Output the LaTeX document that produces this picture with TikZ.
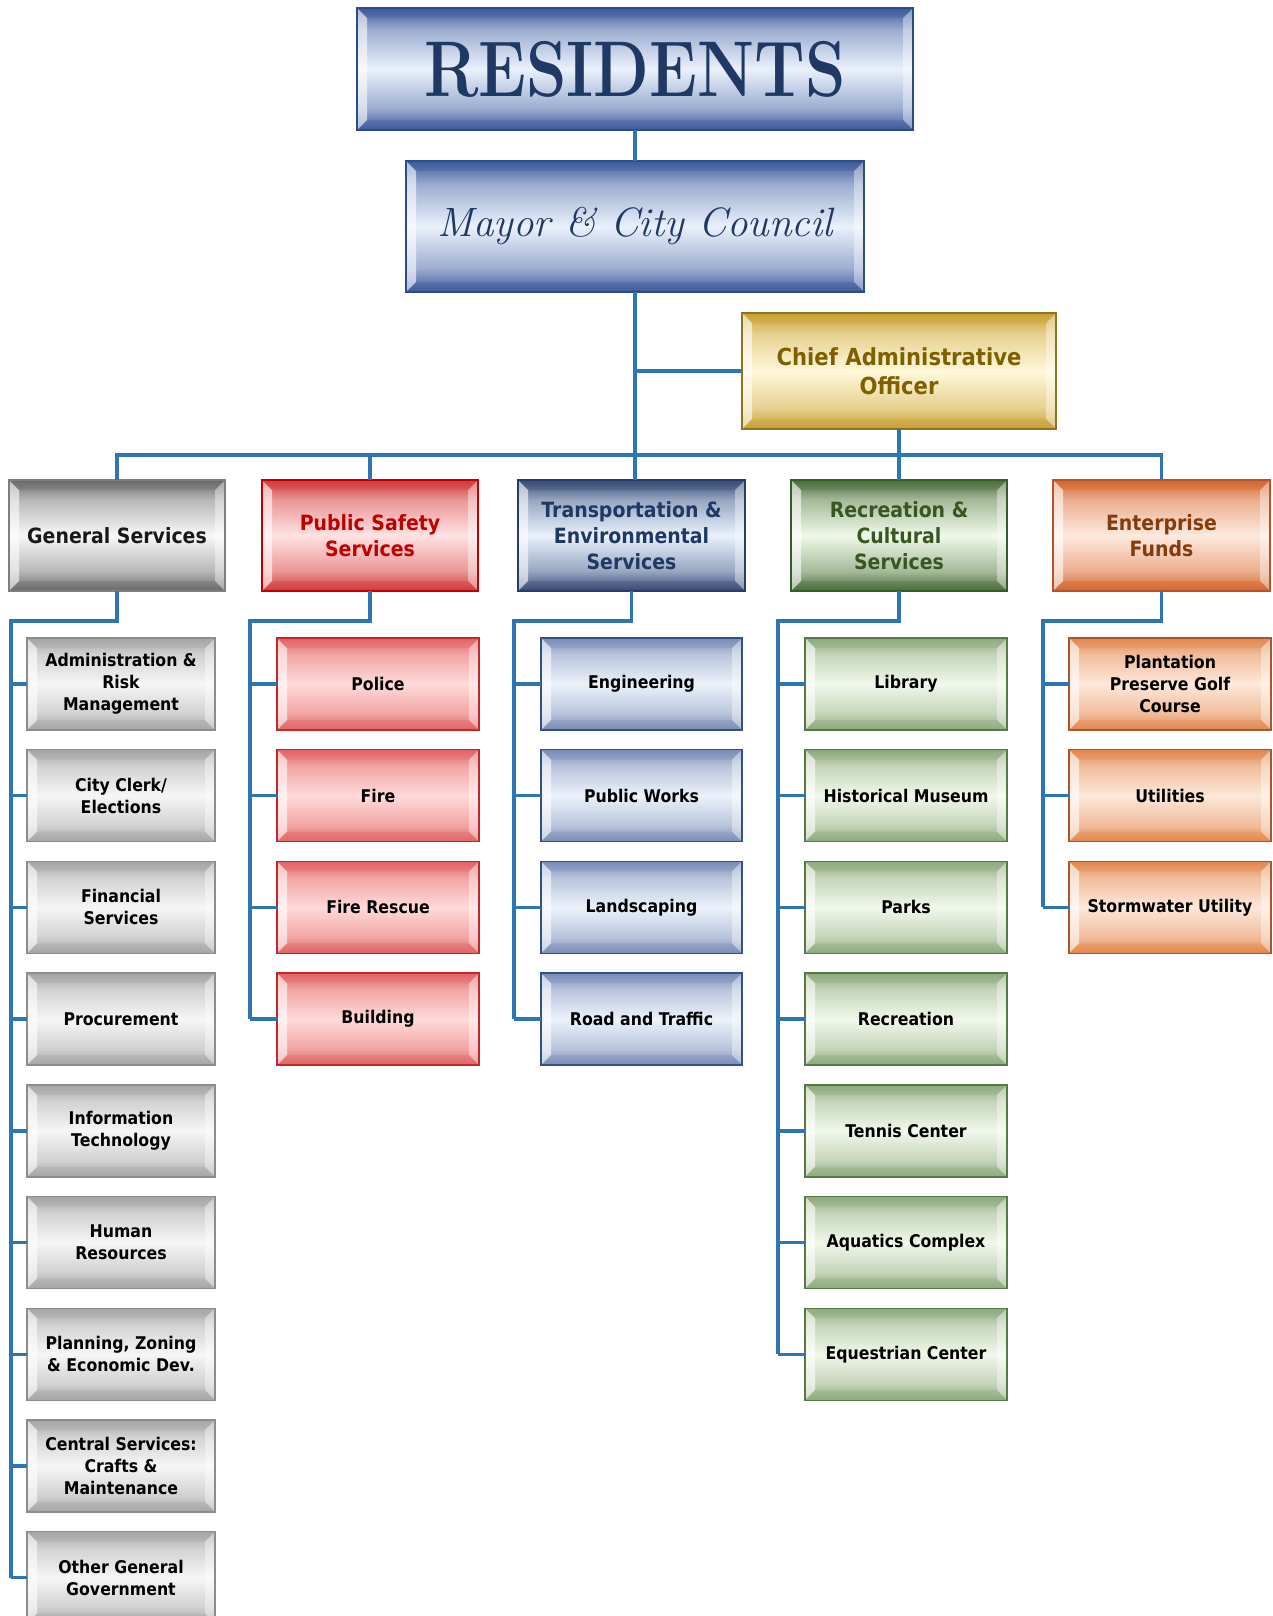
\documentclass[tikz,border=0pt]{standalone}
\usepackage{fontspec}
\usepackage{graphicx}
\newfontfamily\cf{DejaVu Sans}[FakeStretch=0.9]
\definecolor{conn}{HTML}{2E75B6}
% colour sets: D dark, L light, B border
\definecolor{blD}{HTML}{3D5A9A}\definecolor{blL}{HTML}{EAF1FC}\definecolor{blB}{HTML}{2B4C8C}
\definecolor{goD}{HTML}{C9A033}\definecolor{goL}{HTML}{FFF8DA}\definecolor{goB}{HTML}{8A7520}
\definecolor{grD}{HTML}{6A6A6A}\definecolor{grL}{HTML}{F8F8F8}\definecolor{grB}{HTML}{7F7F7F}
\definecolor{reD}{HTML}{D23A3A}\definecolor{reL}{HTML}{FFE2E2}\definecolor{reB}{HTML}{C00000}
\definecolor{nvD}{HTML}{364B78}\definecolor{nvL}{HTML}{E9F1FD}\definecolor{nvB}{HTML}{2A3C66}
\definecolor{gnD}{HTML}{4C6E3B}\definecolor{gnL}{HTML}{EFF9E8}\definecolor{gnB}{HTML}{3B5A2B}
\definecolor{orD}{HTML}{D6652C}\definecolor{orL}{HTML}{FDEADF}\definecolor{orB}{HTML}{B5532A}
\definecolor{cgD}{HTML}{A5A5A5}\definecolor{cgL}{HTML}{F6F6F6}\definecolor{cgB}{HTML}{8C8C8C}
\definecolor{crD}{HTML}{E26464}\definecolor{crL}{HTML}{FFDADA}\definecolor{crB}{HTML}{C4262A}
\definecolor{cbD}{HTML}{7A8DB6}\definecolor{cbL}{HTML}{ECF2FB}\definecolor{cbB}{HTML}{34508A}
\definecolor{cnD}{HTML}{8DAA7D}\definecolor{cnL}{HTML}{F1F8EB}\definecolor{cnB}{HTML}{567A46}
\definecolor{coD}{HTML}{E2884E}\definecolor{coL}{HTML}{FDE8DA}\definecolor{coB}{HTML}{A5582E}
\definecolor{txBlue}{HTML}{1F3864}
\definecolor{txGold}{HTML}{7F6000}
\definecolor{txRed}{HTML}{C00000}
\definecolor{txGreen}{HTML}{375623}
\definecolor{txOrange}{HTML}{843C0C}
\newcommand{\mkshade}[1]{%
  \colorlet{#1M}{#1D!45!#1L}%
  \pgfdeclareverticalshading{sh#1}{100bp}{color(0bp)=(#1D); color(25bp)=(#1D); color(34bp)=(#1M); color(50bp)=(#1L); color(66bp)=(#1M); color(75bp)=(#1D); color(100bp)=(#1D)}}
\mkshade{bl}\mkshade{go}\mkshade{gr}\mkshade{re}\mkshade{nv}\mkshade{gn}\mkshade{or}
\mkshade{cg}\mkshade{cr}\mkshade{cb}\mkshade{cn}\mkshade{co}
\def\bw{10}
% name, x1, y1, x2, y2, colour prefix, node options, text
\newcommand{\bev}[8]{%
  \path[shading=sh#6] ({#2},{#3}) rectangle ({#4},{#5});
  \fill[white,opacity=.6] ({#2},{#3}) -- ({#2+\bw},{#3+\bw}) -- ({#2+\bw},{#5-\bw}) -- ({#2},{#5}) -- cycle;
  \fill[white,opacity=.4] ({#4},{#3}) -- ({#4-\bw},{#3+\bw}) -- ({#4-\bw},{#5-\bw}) -- ({#4},{#5}) -- cycle;
  \fill[#6D,opacity=.3] ({#2},{#3}) -- ({#4},{#3}) -- ({#4-\bw},{#3+\bw}) -- ({#2+\bw},{#3+\bw}) -- cycle;
  \fill[#6D,opacity=.3] ({#2},{#5}) -- ({#4},{#5}) -- ({#4-\bw},{#5-\bw}) -- ({#2+\bw},{#5-\bw}) -- cycle;
  \node[draw=#6B, line width=1.4pt, inner sep=0pt, outer sep=0pt, align=center,
        minimum width={#4-#2}, minimum height={#5-#3}, #7] (#1) at ({(#2+#4)/2},{(#3+#5)/2}) {#8};
}
% name, x1, x2, row, colour prefix, text
\newcommand{\child}[6]{%
  \pgfmathsetmacro\cya{638+(#4-1)*111.7}%
  \pgfmathsetmacro\cyb{\cya+92}%
  \bev{#1}{#2}{\cya}{#3}{\cyb}{#5}{ctext}{#6}}
\tikzset{
  conn/.style={draw=conn, line width=3.4pt},
  ctext/.style={font=\cf\bfseries\fontsize{17.5}{22}\selectfont, text=black},
  htext/.style={font=\cf\bfseries\fontsize{21}{26}\selectfont},
}
\begin{document}
\begin{tikzpicture}[x=1pt,y=-1pt]
\useasboundingbox (0,0) rectangle (1272,1616);
\clip (0,0) rectangle (1272,1616);
\fill[white] (0,0) rectangle (1272,1616);
% top
\bev{res}{357}{8}{913}{130}{bl}{text=txBlue, font=\bfseries\fontsize{79}{80}\selectfont}{\scalebox{0.82}[1]{RESIDENTS}}
\bev{mayor}{406}{161}{864}{292}{bl}{text=txBlue, font=\itshape\fontsize{41}{44}\selectfont}{Mayor \& City Council}
\bev{cao}{742}{313}{1056}{429}{go}{text=txGold, font=\cf\bfseries\fontsize{23.5}{29}\selectfont}{Chief Administrative\\Officer}
% departments
\bev{gen}{9}{480}{225}{591}{gr}{htext, text=black!90}{General Services}
\bev{ps}{262}{480}{478}{591}{re}{htext, text=txRed}{Public Safety\\Services}
\bev{trans}{518}{480}{745}{591}{nv}{htext, text=txBlue}{Transportation \&\\Environmental\\Services}
\bev{rec}{791}{480}{1007}{591}{gn}{htext, text=txGreen}{Recreation \&\\Cultural\\Services}
\bev{ent}{1053}{480}{1270}{591}{or}{htext, text=txOrange}{Enterprise\\Funds}
% general services
\child{g1}{27}{215}{1}{cg}{Administration \&\\Risk\\Management}
\child{g2}{27}{215}{2}{cg}{City Clerk/\\Elections}
\child{g3}{27}{215}{3}{cg}{Financial\\Services}
\child{g4}{27}{215}{4}{cg}{Procurement}
\child{g5}{27}{215}{5}{cg}{Information\\Technology}
\child{g6}{27}{215}{6}{cg}{Human\\Resources}
\child{g7}{27}{215}{7}{cg}{Planning, Zoning\\\& Economic Dev.}
\child{g8}{27}{215}{8}{cg}{Central Services:\\Crafts \&\\Maintenance}
\child{g9}{27}{215}{9}{cg}{Other General\\Government}
% public safety
\child{p1}{277}{479}{1}{cr}{Police}
\child{p2}{277}{479}{2}{cr}{Fire}
\child{p3}{277}{479}{3}{cr}{Fire Rescue}
\child{p4}{277}{479}{4}{cr}{Building}
% transportation
\child{t1}{541}{742}{1}{cb}{Engineering}
\child{t2}{541}{742}{2}{cb}{Public Works}
\child{t3}{541}{742}{3}{cb}{Landscaping}
\child{t4}{541}{742}{4}{cb}{Road and Traffic}
% recreation
\child{r1}{805}{1007}{1}{cn}{Library}
\child{r2}{805}{1007}{2}{cn}{Historical Museum}
\child{r3}{805}{1007}{3}{cn}{Parks}
\child{r4}{805}{1007}{4}{cn}{Recreation}
\child{r5}{805}{1007}{5}{cn}{Tennis Center}
\child{r6}{805}{1007}{6}{cn}{Aquatics Complex}
\child{r7}{805}{1007}{7}{cn}{Equestrian Center}
% enterprise
\child{e1}{1069}{1271}{1}{co}{Plantation\\Preserve Golf\\Course}
\child{e2}{1069}{1271}{2}{co}{Utilities}
\child{e3}{1069}{1271}{3}{co}{Stormwater Utility}
% connectors
\draw[conn] (res.south) -- (res.south |- mayor.north);
\draw[conn] (mayor.south) -- (mayor.south |- trans.north);
\draw[conn] (mayor.south |- cao.west) -- (cao.west);
\coordinate (bus) at (635,455);
\draw[conn] (gen.north) -- (gen.north |- bus) -- (ent.north |- bus) -- (ent.north);
\draw[conn] (ps.north) -- (ps.north |- bus);
\draw[conn] (cao.south) -- (cao.south |- rec.north);
\coordinate (gL) at (11,621);
\coordinate (pL) at (250,621);
\coordinate (tL) at (514,621);
\coordinate (rL) at (778,621);
\coordinate (eL) at (1043,621);
\draw[conn] (gen.south) |- (gL) -- (gL |- g9.west);
\draw[conn] (ps.south) |- (pL) -- (pL |- p4.west);
\draw[conn] (trans.south) |- (tL) -- (tL |- t4.west);
\draw[conn] (rec.south) |- (rL) -- (rL |- r7.west);
\draw[conn] (ent.south) |- (eL) -- (eL |- e3.west);
\foreach \c in {g1,g2,g3,g4,g5,g6,g7,g8,g9} \draw[conn] (gL |- \c.west) -- (\c.west);
\foreach \c in {p1,p2,p3,p4} \draw[conn] (pL |- \c.west) -- (\c.west);
\foreach \c in {t1,t2,t3,t4} \draw[conn] (tL |- \c.west) -- (\c.west);
\foreach \c in {r1,r2,r3,r4,r5,r6,r7} \draw[conn] (rL |- \c.west) -- (\c.west);
\foreach \c in {e1,e2,e3} \draw[conn] (eL |- \c.west) -- (\c.west);
\end{tikzpicture}
\end{document}
